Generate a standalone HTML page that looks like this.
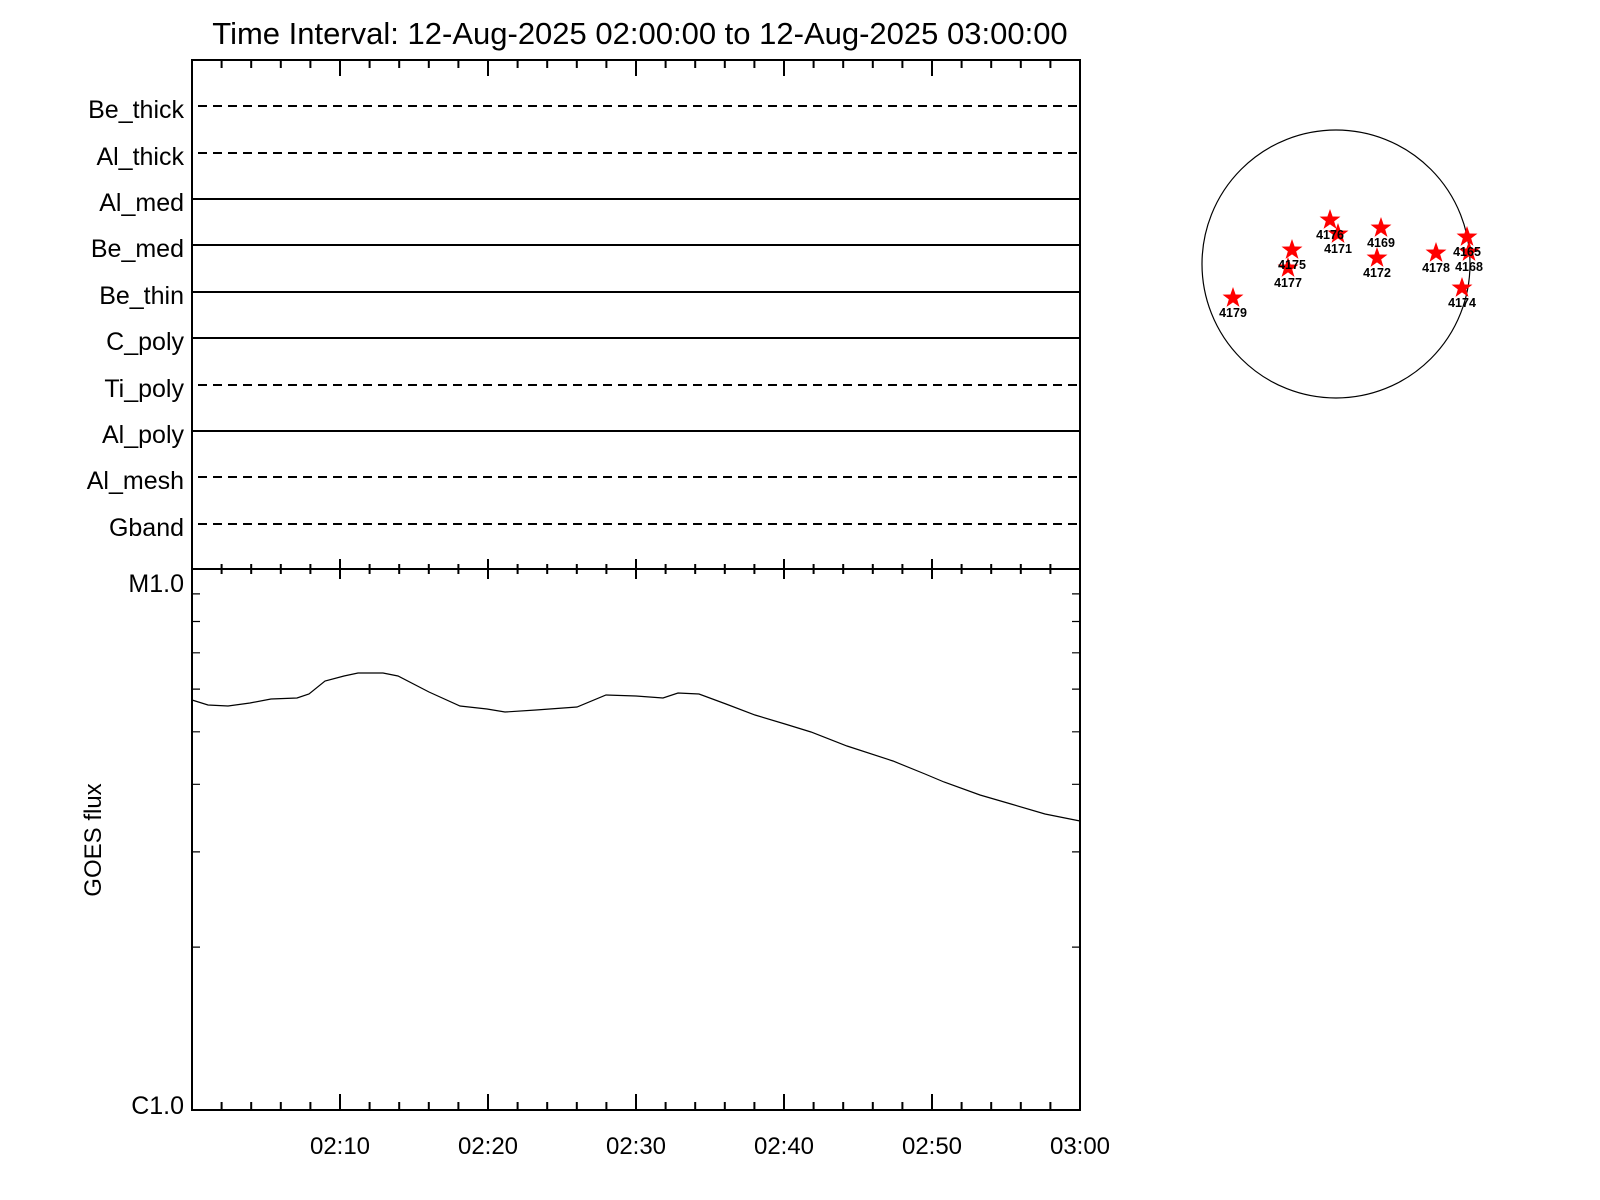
<!DOCTYPE html>
<html><head><meta charset="utf-8"><style>body{margin:0;background:#fff}svg{display:block}text{font-family:"Liberation Sans",sans-serif}</style></head><body>
<svg width="1600" height="1200" viewBox="0 0 1600 1200" xmlns="http://www.w3.org/2000/svg">
<defs><polygon id="s" fill="#f00" points="0,-11 2.59,-3.56 10.46,-3.4 4.18,1.36 6.47,8.9 0,4.4 -6.47,8.9 -4.18,1.36 -10.46,-3.4 -2.59,-3.56"/></defs>
<text x="640" y="44" font-size="31" text-anchor="middle">Time Interval: 12-Aug-2025 02:00:00 to 12-Aug-2025 03:00:00</text>
<g stroke="#000" stroke-width="2" fill="none">
<rect x="192" y="60" width="888" height="1050"/>
<line x1="192" y1="569" x2="1080" y2="569"/>
<g stroke-dasharray="9,6">
<line x1="198" y1="106" x2="1080" y2="106"/>
<line x1="198" y1="153" x2="1080" y2="153"/>
<line x1="198" y1="385" x2="1080" y2="385"/>
<line x1="198" y1="477" x2="1080" y2="477"/>
<line x1="198" y1="524" x2="1080" y2="524"/>
</g>
<line x1="192" y1="199" x2="1080" y2="199"/>
<line x1="192" y1="245" x2="1080" y2="245"/>
<line x1="192" y1="292" x2="1080" y2="292"/>
<line x1="192" y1="338" x2="1080" y2="338"/>
<line x1="192" y1="431" x2="1080" y2="431"/>
<path d="M221.6 60v8M251.2 60v8M280.8 60v8M310.4 60v8M340 60v16M369.6 60v8M399.2 60v8M428.8 60v8M458.4 60v8M488 60v16M517.6 60v8M547.2 60v8M576.8 60v8M606.4 60v8M636 60v16M665.6 60v8M695.2 60v8M724.8 60v8M754.4 60v8M784 60v16M813.6 60v8M843.2 60v8M872.8 60v8M902.4 60v8M932 60v16M961.6 60v8M991.2 60v8M1020.8 60v8M1050.4 60v8"/>
<path d="M221.6 1110v-8M251.2 1110v-8M280.8 1110v-8M310.4 1110v-8M340 1110v-16M369.6 1110v-8M399.2 1110v-8M428.8 1110v-8M458.4 1110v-8M488 1110v-16M517.6 1110v-8M547.2 1110v-8M576.8 1110v-8M606.4 1110v-8M636 1110v-16M665.6 1110v-8M695.2 1110v-8M724.8 1110v-8M754.4 1110v-8M784 1110v-16M813.6 1110v-8M843.2 1110v-8M872.8 1110v-8M902.4 1110v-8M932 1110v-16M961.6 1110v-8M991.2 1110v-8M1020.8 1110v-8M1050.4 1110v-8"/>
<path d="M221.6 564v10M251.2 564v10M280.8 564v10M310.4 564v10M340 559v20M369.6 564v10M399.2 564v10M428.8 564v10M458.4 564v10M488 559v20M517.6 564v10M547.2 564v10M576.8 564v10M606.4 564v10M636 559v20M665.6 564v10M695.2 564v10M724.8 564v10M754.4 564v10M784 559v20M813.6 564v10M843.2 564v10M872.8 564v10M902.4 564v10M932 559v20M961.6 564v10M991.2 564v10M1020.8 564v10M1050.4 564v10M1080 559v20"/>
<path stroke-width="1.2" d="M192 947.1h8M192 851.9h8M192 784.3h8M192 731.8h8M192 689.1h8M192 652.8h8M192 621.5h8M192 593.9h8M1080 947.1h-8M1080 851.9h-8M1080 784.3h-8M1080 731.8h-8M1080 689.1h-8M1080 652.8h-8M1080 621.5h-8M1080 593.9h-8"/>
</g>
<g font-size="25" text-anchor="end">
<text x="184" y="118">Be_thick</text>
<text x="184" y="165">Al_thick</text>
<text x="184" y="211">Al_med</text>
<text x="184" y="257">Be_med</text>
<text x="184" y="304">Be_thin</text>
<text x="184" y="350">C_poly</text>
<text x="184" y="397">Ti_poly</text>
<text x="184" y="443">Al_poly</text>
<text x="184" y="489">Al_mesh</text>
<text x="184" y="536">Gband</text>
<text x="184" y="592">M1.0</text>
<text x="184" y="1114">C1.0</text>
</g>
<g font-size="24" text-anchor="middle">
<text x="340" y="1154">02:10</text>
<text x="488" y="1154">02:20</text>
<text x="636" y="1154">02:30</text>
<text x="784" y="1154">02:40</text>
<text x="932" y="1154">02:50</text>
<text x="1080" y="1154">03:00</text>
</g>
<text transform="translate(101,840) rotate(-90)" font-size="24" text-anchor="middle">GOES flux</text>
<polyline fill="none" stroke="#000" stroke-width="1.2" points="192,700 208,705 228,706 250,703 271,699 297,698 309,694 325,681 344,676 358,673 383,673 398,676 429,692 460,706 487,709 505,712 536,710 577,707 606,695 636,696 663,698 678,693 699,694 726,704 755,715 785,724 811,732 847,746 893,761 925,774 944,782 980,795 1011,804 1045,814 1080,821"/>
<circle cx="1336" cy="264" r="134" fill="none" stroke="#000" stroke-width="1.2"/>
<use href="#s" x="1330" y="220"/><use href="#s" x="1338" y="234"/><use href="#s" x="1381" y="228"/><use href="#s" x="1377" y="258"/><use href="#s" x="1292" y="250"/><use href="#s" x="1288" y="268"/><use href="#s" x="1436" y="253"/><use href="#s" x="1467" y="237"/><use href="#s" x="1469" y="252"/><use href="#s" x="1462" y="288"/><use href="#s" x="1233" y="298"/>
<g font-size="12.5" font-weight="bold" text-anchor="middle">
<text x="1330" y="239">4176</text><text x="1338" y="253">4171</text><text x="1381" y="247">4169</text><text x="1377" y="277">4172</text><text x="1292" y="269">4175</text><text x="1288" y="287">4177</text><text x="1436" y="272">4178</text><text x="1467" y="256">4165</text><text x="1469" y="271">4168</text><text x="1462" y="307">4174</text><text x="1233" y="317">4179</text>
</g>
</svg>
</body></html>
